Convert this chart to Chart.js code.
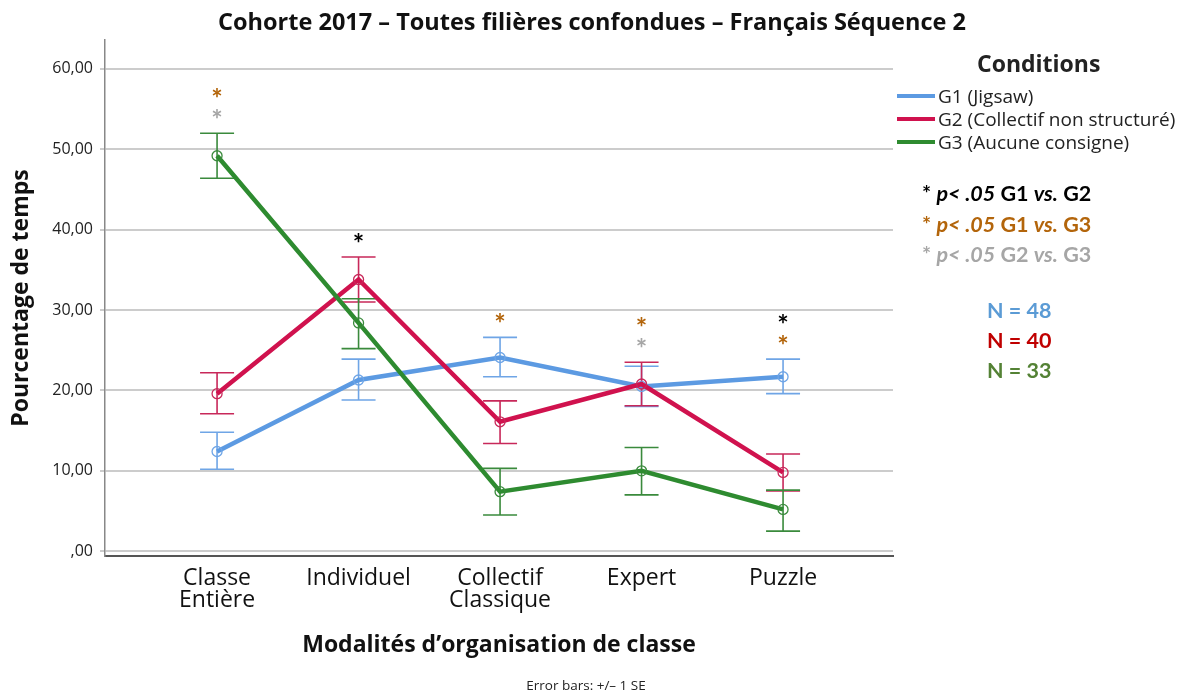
<!DOCTYPE html>
<html>
<head>
<meta charset="utf-8">
<script src="https://cdn.jsdelivr.net/npm/chart.js@4.4.1/dist/chart.umd.min.js"></script>
<style>
  body { margin: 0; background: #fff; }
  #wrap { position: relative; width: 1184px; height: 695px; font-family: 'Open Sans', sans-serif; }
  #chart { position: absolute; left: 0; top: 0; }
  .t { position: absolute; white-space: nowrap; transform: translateY(-50%); line-height: 1; }
  .cal { font-family: Lato, sans-serif; font-weight: bold; font-size: 21.5px; }
  .item { font-size: 19px; color: #222; }
  .swatch { position: absolute; width: 38px; height: 4px; transform: translateY(-50%); }
</style>
</head>
<body>
<div id="wrap">
  <canvas id="chart" width="1184" height="695"></canvas>

  <div class="t" style="left:592px;top:22px;font-size:23.5px;font-weight:bold;color:#111;transform:translate(-50%,-50%)">Cohorte 2017 – Toutes filières confondues – Français Séquence 2</div>

  <div class="t" style="left:977px;top:63px;font-size:23px;font-weight:bold;color:#222">Conditions</div>
  <div class="swatch" style="left:897px;top:96px;background:#5c9ae2"></div>
  <div class="t item" style="left:938px;top:96px">G1 (Jigsaw)</div>
  <div class="swatch" style="left:897px;top:119px;background:#d0124e"></div>
  <div class="t item" style="left:938px;top:119px">G2 (Collectif non structuré)</div>
  <div class="swatch" style="left:897px;top:142px;background:#2e8b30"></div>
  <div class="t item" style="left:938px;top:142px">G3 (Aucune consigne)</div>

  <div class="t cal" style="left:922px;top:194px;color:#000">* <i>p&lt; .05</i> G1 <i>vs.</i> G2</div>
  <div class="t cal" style="left:922px;top:225px;color:#b3650b">* <i>p&lt; .05</i> G1 <i>vs.</i> G3</div>
  <div class="t cal" style="left:922px;top:255px;color:#a6a6a6">* <i>p&lt; .05</i> G2 <i>vs.</i> G3</div>

  <div class="t cal" style="left:987px;top:311px;color:#5b9bd5">N = 48</div>
  <div class="t cal" style="left:987px;top:341px;color:#c00000">N = 40</div>
  <div class="t cal" style="left:987px;top:371px;color:#548235">N = 33</div>

  <div class="t" style="left:586px;top:686px;font-size:13.5px;color:#222;transform:translate(-50%,-50%)">Error bars: +/– 1 SE</div>
</div>
<script>
// categories on the x axis
const categories = [['Classe', 'Entière'], 'Individuel', ['Collectif', 'Classique'], 'Expert', 'Puzzle'];
const yTicks = [0, 10, 20, 30, 40, 50, 60];

// means and +/- 1 SE bounds
const g1Mean = [12.4, 21.3, 24.1, 20.5, 21.7];
const g1Low  = [10.2, 18.8, 21.7, 18.0, 19.6];
const g1High = [14.8, 23.9, 26.6, 23.0, 23.9];

const g2Mean = [19.6, 33.8, 16.1, 20.8, 9.8];
const g2Low  = [17.1, 31.0, 13.4, 18.1, 7.5];
const g2High = [22.2, 36.6, 18.7, 23.5, 12.1];

const g3Mean = [49.2, 28.4, 7.4, 10.0, 5.2];
const g3Low  = [46.4, 25.2, 4.5, 7.0, 2.5];
const g3High = [52.0, 31.4, 10.3, 12.9, 7.6];

// significant pairwise differences per category
const sigG1G2 = [false, true, false, false, true];
const sigG1G3 = [true, false, true, true, true];
const sigG2G3 = [true, false, false, true, false];

const groups = [
  { label: 'G1 (Jigsaw)', mean: g1Mean, low: g1Low, high: g1High, line: '#5c9ae2', bar: '#6fa5e6', order: 2 },
  { label: 'G2 (Collectif non structuré)', mean: g2Mean, low: g2Low, high: g2High, line: '#d0124e', bar: '#c8285a', order: 1 },
  { label: 'G3 (Aucune consigne)', mean: g3Mean, low: g3Low, high: g3High, line: '#2e8b30', bar: '#3a8a3c', order: 0 }
];

// stacked bottom-up above the highest error bar
const sigRows = [
  { flags: sigG2G3, color: '#a6a6a6' },
  { flags: sigG1G3, color: '#b3650b' },
  { flags: sigG1G2, color: '#000000' }
];

const errorBars = {
  id: 'errorBars',
  beforeDatasetsDraw(chart) {
    const {ctx, scales: {x, y}} = chart;
    groups.forEach(g => {
      ctx.save();
      ctx.strokeStyle = g.bar;
      ctx.lineWidth = 1.6;
      g.low.forEach((lo, i) => {
        const px = x.getPixelForValue(i + 1);
        const top = y.getPixelForValue(g.high[i]);
        const bot = y.getPixelForValue(lo);
        ctx.beginPath();
        ctx.moveTo(px, top); ctx.lineTo(px, bot);
        ctx.moveTo(px - 17, top); ctx.lineTo(px + 17, top);
        ctx.moveTo(px - 17, bot); ctx.lineTo(px + 17, bot);
        ctx.stroke();
      });
      ctx.restore();
    });
  },
  afterDatasetsDraw(chart) {
    const {ctx, scales: {x, y}} = chart;
    ctx.save();
    ctx.font = 'bold 27px Lato, sans-serif';
    ctx.textAlign = 'center';
    ctx.textBaseline = 'middle';
    categories.forEach((c, i) => {
      const px = x.getPixelForValue(i + 1);
      const topVal = Math.max(g1High[i], g2High[i], g3High[i]);
      let py = y.getPixelForValue(topVal) - 19;
      sigRows.forEach(r => {
        if (!r.flags[i]) return;
        ctx.fillStyle = r.color;
        ctx.fillText('*', px, py + 6);
        py -= 21;
      });
    });
    ctx.restore();
  }
};

new Chart(document.getElementById('chart'), {
  type: 'line',
  data: {
    datasets: groups.map(g => ({
      label: g.label,
      data: g.mean.map((v, i) => ({x: i + 1, y: v})),
      borderColor: g.line,
      borderWidth: 4.5,
      pointRadius: 5,
      pointBorderWidth: 1.3,
      pointBorderColor: g.bar,
      pointBackgroundColor: 'rgba(255,255,255,0)',
      tension: 0,
      order: g.order
    }))
  },
  plugins: [errorBars],
  options: {
    responsive: false,
    animation: false,
    layout: { padding: { top: 40, right: 291, bottom: 26, left: 0 } },
    plugins: {
      legend: { display: false },
      tooltip: { enabled: false }
    },
    scales: {
      x: {
        type: 'linear',
        min: 0.208,
        max: 5.777,
        afterBuildTicks: s => { s.ticks = categories.map((c, i) => ({value: i + 1})); },
        afterFit: s => { s.height = 113; },
        ticks: {
          callback: v => categories[v - 1],
          color: '#111',
          font: { family: 'Open Sans', size: 23, lineHeight: 0.96 },
          padding: 11,
          maxRotation: 0,
          autoSkip: false
        },
        grid: { display: false, drawTicks: false },
        border: { display: true, color: '#555', width: 2 },
        title: {
          display: true,
          text: 'Modalités d’organisation de classe',
          color: '#111',
          font: { family: 'Open Sans', size: 23, weight: 'bold' },
          padding: { bottom: 10 }
        }
      },
      y: {
        min: -0.6,
        max: 63.6,
        afterBuildTicks: s => { s.ticks = yTicks.map(v => ({value: v})); },
        afterFit: s => { s.width = 105; },
        ticks: {
          callback: v => v === 0 ? ',00' : v.toFixed(2).replace('.', ','),
          color: '#222',
          font: { family: 'Open Sans', size: 16 },
          padding: 7
        },
        grid: { color: '#cccccc', lineWidth: 2, tickLength: 5 },
        border: { display: true, color: '#888', width: 1.5 },
        title: {
          display: true,
          text: 'Pourcentage de temps',
          color: '#111',
          font: { family: 'Open Sans', size: 23, weight: 'bold' },
          padding: { top: 8 }
        }
      }
    }
  }
});
</script>
</body>
</html>
